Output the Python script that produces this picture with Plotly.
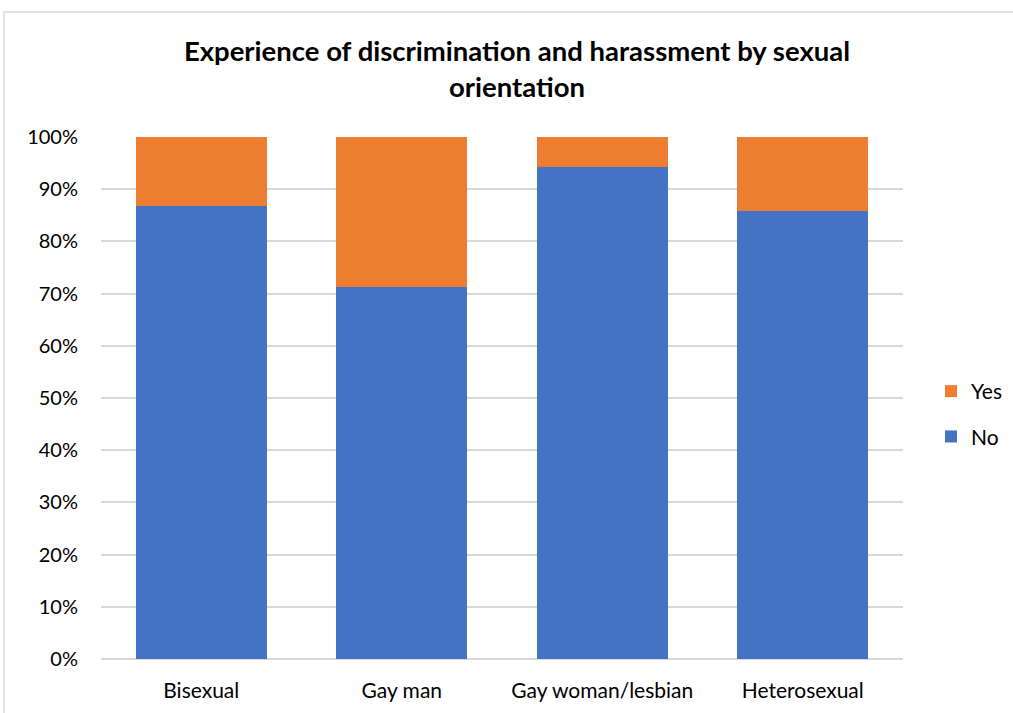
import plotly.graph_objects as go

categories = ["Bisexual", "Gay man", "Gay woman/lesbian", "Heterosexual"]
no_values = [0.868, 0.713, 0.943, 0.859]
yes_values = [round(1 - v, 3) for v in no_values]
y_ticks = [0, 0.1, 0.2, 0.3, 0.4, 0.5, 0.6, 0.7, 0.8, 0.9, 1.0]

FONT = "Lato, Calibri, sans-serif"

fig = go.Figure()
fig.add_trace(go.Bar(x=categories, y=no_values, name="No", marker_color="#4472C4",
                     marker_line_width=0, legendgroup="no", legendrank=2, hoverinfo="y"))
fig.add_trace(go.Bar(x=categories, y=yes_values, name="Yes", marker_color="#ED7D31",
                     marker_line_width=0, legendgroup="yes", legendrank=1, hoverinfo="y"))

W, H = 1013, 713
L, R, T, B = 101, 110, 137, 54
pw, ph = W - L - R, H - T - B

def px(x):
    return (x - L) / pw

def py(y):
    return (H - B - y) / ph

fig.update_layout(
    width=W, height=H,
    margin=dict(l=L, r=R, t=T, b=B, pad=0, autoexpand=False),
    barmode="stack",
    bargap=0.347,
    paper_bgcolor="white",
    plot_bgcolor="white",
    font=dict(family=FONT, size=20, color="#000000"),
    title=dict(text="<b>Experience of discrimination and harassment by sexual<br>orientation</b>",
               xref="container", x=517 / W, xanchor="center", y=1 - 61 / H, yanchor="middle",
               font=dict(family=FONT, size=27.5, color="#000000")),
    legend=dict(traceorder="grouped", x=px(931), xanchor="left",
                y=py(414), yanchor="middle", font=dict(size=21, family=FONT),
                tracegroupgap=15, itemwidth=30, bgcolor="rgba(0,0,0,0)"),
    xaxis=dict(showgrid=False, showline=False, ticks="outside", ticklen=13,
               tickcolor="rgba(0,0,0,0)", tickfont=dict(size=21)),
    yaxis=dict(range=[0, 1], tickvals=y_ticks, tickformat=".0%",
               showgrid=True, gridcolor="#d9d9d9", gridwidth=1.5,
               zeroline=True, zerolinecolor="#d9d9d9", zerolinewidth=1.5,
               showline=False, ticks="outside", ticklen=18,
               tickcolor="rgba(0,0,0,0)", tickfont=dict(size=20)),
    showlegend=True,
)

fig.add_shape(type="rect", xref="paper", yref="paper",
              x0=px(4), x1=px(1030), y0=py(740), y1=py(12),
              line=dict(color="#d9d9d9", width=1.5), fillcolor="rgba(0,0,0,0)",
              layer="below")

fig.write_html("out.html")
